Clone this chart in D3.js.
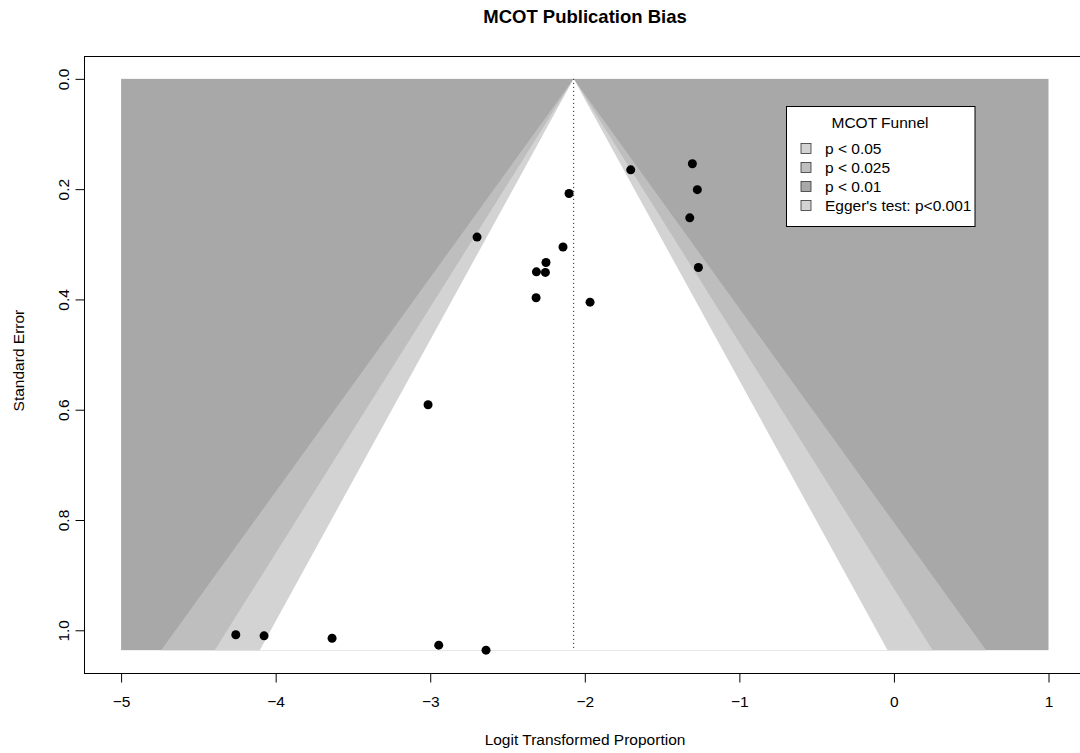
<!DOCTYPE html>
<html>
<head>
<meta charset="utf-8">
<script src="https://cdn.jsdelivr.net/npm/d3@7"></script>
<style>
  html, body { margin: 0; padding: 0; background: #fff; }
  svg { display: block; font-family: "Liberation Sans", Arial, sans-serif; }
</style>
</head>
<body>
<svg id="chart" width="1080" height="753"></svg>
<script>
// ---- data ----
const studyEffect = [-1.703, -1.304, -1.272, -1.321, -1.265, -2.102, -2.697, -2.141, -2.251, -2.313,
                     -2.255, -2.315, -1.966, -3.014, -4.258, -4.075, -3.635, -2.945, -2.639];
const studySE     = [0.165, 0.154, 0.201, 0.252, 0.342, 0.208, 0.287, 0.305, 0.333, 0.350,
                     0.351, 0.397, 0.405, 0.591, 1.008, 1.010, 1.0145, 1.027, 1.036];
const pooledEstimate = -2.072;
const contourZ = [2.5758, 2.2414, 1.95996];              // p<0.01, p<0.025, p<0.05 boundaries
const contourColors = ["#bebebe", "#d3d3d3", "#ffffff"];
const outerColor = "#a8a8a8";
const xTicks = [-5, -4, -3, -2, -1, 0, 1];
const yTicks = [0.0, 0.2, 0.4, 0.6, 0.8, 1.0];
const legendLabels = ["p < 0.05", "p < 0.025", "p < 0.01", "Egger's test: p<0.001"];
const legendColors = ["#d3d3d3", "#bebebe", "#a8a8a8", "#d3d3d3"];
const titleText = "MCOT Publication Bias";
const xLabel = "Logit Transformed Proportion";
const yLabel = "Standard Error";
const legendTitle = "MCOT Funnel";

// ---- layout ----
const svg = d3.select("#chart");
const xMin = -5, xMax = 1;
const seMax = d3.max(studySE);
const xPad = (xMax - xMin) * 0.04, yPad = seMax * 0.04;
const plotL = 84, plotR = 1085.6, plotT = 56, plotB = 673;

const x = d3.scaleLinear().domain([xMin - xPad, xMax + xPad]).range([plotL, plotR]);
const y = d3.scaleLinear().domain([-yPad, seMax + yPad]).range([plotT, plotB]);

const FS = 15.5;

// clip to funnel rectangle
svg.append("defs").append("clipPath").attr("id", "funnelClip")
  .append("rect")
  .attr("x", x(xMin)).attr("y", y(0))
  .attr("width", x(xMax) - x(xMin)).attr("height", y(seMax) - y(0));

// outer region
svg.append("rect")
  .attr("x", x(xMin)).attr("y", y(0))
  .attr("width", x(xMax) - x(xMin)).attr("height", y(seMax) - y(0))
  .attr("fill", outerColor);

const g = svg.append("g").attr("clip-path", "url(#funnelClip)");
const seExt = seMax * 1.03; // extend past bottom, clipped (avoids seams)
contourZ.forEach((z, i) => {
  const pts = [
    [x(pooledEstimate - z * seExt), y(seExt)],
    [x(pooledEstimate), y(0)],
    [x(pooledEstimate + z * seExt), y(seExt)]
  ];
  g.append("path")
    .attr("d", d3.line()(pts) + "Z")
    .attr("fill", contourColors[i]);
});

// center dotted line
svg.append("line")
  .attr("x1", x(pooledEstimate)).attr("x2", x(pooledEstimate))
  .attr("y1", y(0)).attr("y2", y(seMax))
  .attr("stroke", "#000").attr("stroke-width", 1)
  .attr("stroke-dasharray", "1,3");

// points
svg.append("g").selectAll("circle")
  .data(studyEffect.map((v, i) => ({ v, se: studySE[i] })))
  .join("circle")
  .attr("cx", d => x(d.v)).attr("cy", d => y(d.se))
  .attr("r", 4.5).attr("fill", "#000");

// box
svg.append("rect")
  .attr("x", plotL + 0.5).attr("y", plotT + 0.5)
  .attr("width", plotR - plotL).attr("height", plotB - plotT)
  .attr("fill", "none").attr("stroke", "#000").attr("stroke-width", 1);

// x axis
const xAxis = d3.axisBottom(x).tickValues(xTicks).tickSizeInner(9).tickSizeOuter(0).tickPadding(13)
  .tickFormat(d => d < 0 ? "\u2212" + Math.abs(d) : String(d));
const xa = svg.append("g").attr("transform", `translate(0,${plotB + 0.5})`).call(xAxis);
xa.select(".domain").remove();
xa.selectAll(".tick line").attr("stroke", "#000");
xa.selectAll("text").attr("font-size", FS).attr("font-family", "Liberation Sans, Arial, sans-serif").attr("fill", "#000");

// y axis
const yAxis = d3.axisLeft(y).tickValues(yTicks).tickSizeInner(9).tickSizeOuter(0).tickFormat(d3.format(".1f"));
const ya = svg.append("g").attr("transform", `translate(${plotL + 0.5},0)`).call(yAxis);
ya.select(".domain").remove();
ya.selectAll(".tick line").attr("stroke", "#000");
ya.selectAll("text")
  .attr("font-size", FS).attr("font-family", "Liberation Sans, Arial, sans-serif").attr("fill", "#000")
  .attr("x", null).attr("dy", null)
  .attr("text-anchor", "middle")
  .attr("transform", "translate(-16,0) rotate(-90)");

// titles
svg.append("text").attr("x", 585).attr("y", 23)
  .attr("text-anchor", "middle").attr("font-weight", "bold").attr("font-size", 18.5)
  .text(titleText);
svg.append("text").attr("x", 585).attr("y", 745)
  .attr("text-anchor", "middle").attr("font-size", FS)
  .text(xLabel);
svg.append("text")
  .attr("transform", `translate(24,${(y(0) + y(1)) / 2 + 6}) rotate(-90)`)
  .attr("text-anchor", "middle").attr("font-size", FS)
  .text(yLabel);

// legend
const lg = svg.append("g");
lg.append("rect").attr("x", 786.5).attr("y", 106.5).attr("width", 188.5).attr("height", 120)
  .attr("fill", "#fff").attr("stroke", "#000");
lg.append("text").attr("x", 880).attr("y", 128).attr("text-anchor", "middle")
  .attr("font-size", FS).text(legendTitle);
legendLabels.forEach((lab, i) => {
  const cy = 148.5 + i * 19;
  lg.append("rect").attr("x", 801).attr("y", cy - 5).attr("width", 10).attr("height", 10)
    .attr("fill", legendColors[i]).attr("stroke", "#333").attr("stroke-width", 0.8);
  lg.append("text").attr("x", 825).attr("y", cy + 5.5).attr("font-size", FS).text(lab);
});
</script>
</body>
</html>
